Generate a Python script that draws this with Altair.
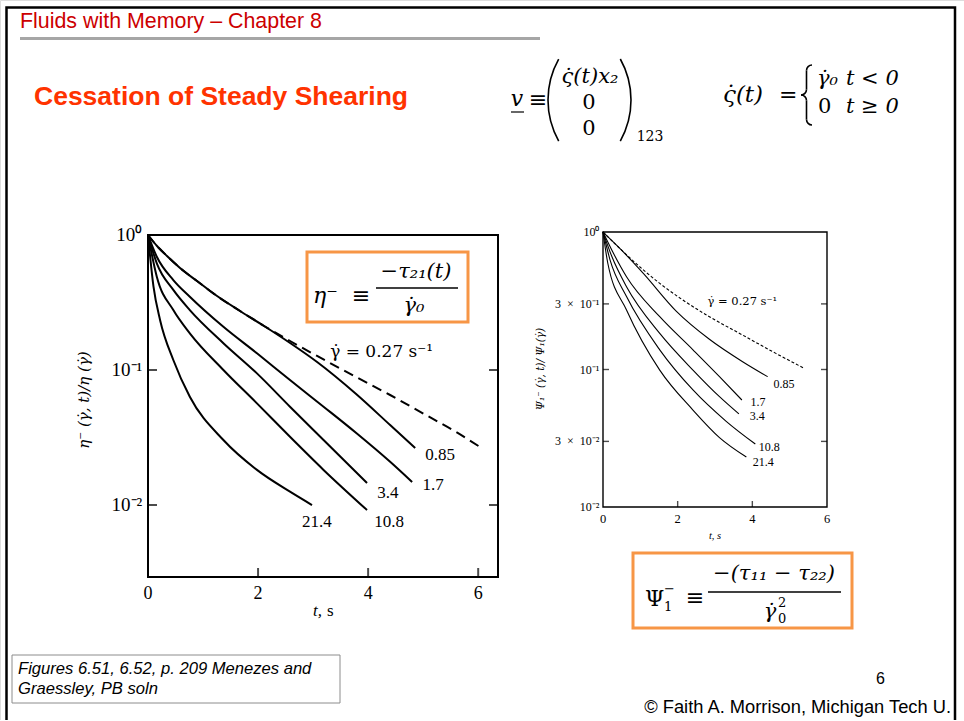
import altair as alt
import pandas as pd

W, H = 964, 720

# ---------------- shear stress after cessation: eta^-(t)/eta ----------------
rates = ["0.27", "0.85", "1.7", "3.4", "10.8", "21.4"]

eta_t_027 = [0, 0.164, 0.345, 0.582, 0.891, 1.255, 1.673, 2.109, 2.582, 3.073, 3.782, 4.40, 5.018, 5.60, 6.09]
eta_y_027 = [1.0, 0.829, 0.699, 0.570, 0.456, 0.353, 0.2735, 0.2118, 0.164, 0.127, 0.0887, 0.0653, 0.0472, 0.0347, 0.026]
eta_t_085 = [0, 0.164, 0.345, 0.582, 0.891, 1.255, 1.673, 2.109, 2.582, 3.073, 3.782, 4.40, 4.855]
eta_y_085 = [1.0, 0.829, 0.699, 0.570, 0.456, 0.353, 0.2735, 0.2118, 0.1585, 0.1146, 0.0664, 0.0391, 0.0264]
eta_t_17 = [0, 0.16, 0.46, 0.76, 1.37, 1.98, 2.58, 3.19, 3.79, 4.40, 4.80]
eta_y_17 = [1.0, 0.69, 0.464, 0.349, 0.209, 0.133, 0.0843, 0.0535, 0.034, 0.0209, 0.0148]
eta_t_34 = [0, 0.16, 0.46, 0.76, 1.37, 1.98, 2.58, 3.19, 3.98]
eta_y_34 = [1.0, 0.617, 0.392, 0.278, 0.158, 0.0944, 0.0535, 0.0303, 0.01455]
eta_t_108 = [0, 0.16, 0.46, 0.76, 1.37, 1.98, 2.58, 3.19, 3.98]
eta_y_108 = [1.0, 0.491, 0.278, 0.187, 0.1, 0.0566, 0.032, 0.0182, 0.00918]
eta_t_214 = [0, 0.10, 0.22, 0.46, 0.76, 1.37, 1.98, 2.58, 2.98]
eta_y_214 = [1.0, 0.414, 0.234, 0.1186, 0.0634, 0.0303, 0.0182, 0.01255, 0.01]

# label anchors for the left panel (t in s, ratio)
eta_lab_text = ["0.85", "1.7", "3.4", "10.8", "21.4"]
eta_lab_t = [5.31, 5.18, 4.36, 4.38, 3.07]
eta_lab_y = [0.0235, 0.01406, 0.01227, 0.00748, 0.00748]

# ---------------- first normal stress: Psi1^-(t)/Psi1 ----------------
psi_t_027 = [0, 0.45, 1.08, 1.52, 2.14, 2.85, 3.74, 4.63, 5.39]
psi_y_027 = [1.0, 0.76, 0.53, 0.423, 0.32, 0.242, 0.178, 0.131, 0.102]
psi_t_085 = [0, 0.45, 1.08, 1.96, 2.85, 3.74, 4.41]
psi_y_085 = [1.0, 0.76, 0.50, 0.266, 0.166, 0.114, 0.0887]
psi_t_17 = [0, 0.28, 0.63, 1.52, 2.41, 3.12, 3.72]
psi_y_17 = [1.0, 0.70, 0.473, 0.242, 0.139, 0.0887, 0.06]
psi_t_34 = [0, 0.24, 0.63, 1.52, 2.41, 3.12, 3.64]
psi_y_34 = [1.0, 0.66, 0.40, 0.183, 0.099, 0.0634, 0.0475]
psi_t_108 = [0, 0.19, 0.63, 1.52, 2.41, 3.30, 4.08]
psi_y_108 = [1.0, 0.625, 0.339, 0.139, 0.071, 0.042, 0.0287]
psi_t_214 = [0, 0.13, 0.63, 1.52, 2.41, 3.12, 3.84]
psi_y_214 = [1.0, 0.59, 0.271, 0.099, 0.0507, 0.032, 0.0231]

psi_lab_text = ["0.85", "1.7", "3.4", "10.8", "21.4"]
psi_lab_t = [4.85, 4.15, 4.13, 4.45, 4.29]
psi_lab_y = [0.0785, 0.0583, 0.0459, 0.0273, 0.0212]

# axis ticks
eta_xticks = [0, 2, 4, 6]
eta_yticks = [1, 0.1, 0.01]
eta_ylabels = ["10⁰", "10⁻¹", "10⁻²"]
psi_xticks = [0, 2, 4, 6]
psi_yticks = [1, 0.3, 0.1, 0.03, 0.01]
psi_ylabels = ["10⁰", "3\u2002×\u200210⁻¹", "10⁻¹", "3\u2002×\u200210⁻²", "10⁻²"]

ETA_TMAX, ETA_YMIN = 6.36, 0.00293
PSI_TMAX, PSI_YMIN = 6.0, 0.01


def long_table(ts, ys):
    rows = []
    for r, tt, yy in zip(rates, ts, ys):
        for a, b in zip(tt, yy):
            rows.append({"rate": r, "t": a, "y": b})
    return pd.DataFrame(rows)


eta_df = long_table([eta_t_027, eta_t_085, eta_t_17, eta_t_34, eta_t_108, eta_t_214],
                    [eta_y_027, eta_y_085, eta_y_17, eta_y_34, eta_y_108, eta_y_214])
psi_df = long_table([psi_t_027, psi_t_085, psi_t_17, psi_t_34, psi_t_108, psi_t_214],
                    [psi_y_027, psi_y_085, psi_y_17, psi_y_34, psi_y_108, psi_y_214])

one = pd.DataFrame({"k": [0]})
SERIF = "Liberation Serif"
MATH = "DejaVu Serif"
SANS = "Liberation Sans"


def label(s, x, y, size, font=SANS, color="black", weight="normal", style="normal",
          align="left", baseline="middle", angle=0):
    kw = dict(text=s, font=font, fontSize=size, color=color, fontWeight=weight,
              fontStyle=style, align=align, baseline=baseline)
    if angle:
        kw["angle"] = angle
    return alt.Chart(one).mark_text(**kw).encode(x=alt.value(x), y=alt.value(y))


def hline(x1, x2, y, color="black", width=1.0):
    return alt.Chart(one).mark_rule(color=color, strokeWidth=width).encode(
        x=alt.value(x1), x2=alt.value(x2), y=alt.value(y))


def vline(x, y1, y2, color="black", width=1.0):
    return alt.Chart(one).mark_rule(color=color, strokeWidth=width).encode(
        x=alt.value(x), y=alt.value(y1), y2=alt.value(y2))


def box(x1, x2, y1, y2, color, width, fill="white"):
    return alt.Chart(one).mark_rect(fill=fill, stroke=color, strokeWidth=width).encode(
        x=alt.value(x1), x2=alt.value(x2), y=alt.value(y1), y2=alt.value(y2))


def arc(cx, cy, r, a0, a1, width=1.6):
    return alt.Chart(one).mark_arc(radius=r + width / 2, radius2=r - width / 2, theta=a0,
                                   theta2=a1, color="black").encode(
        x=alt.value(cx), y=alt.value(cy))


def paren(edge_x, cy, r, left=True):
    # a thin circular arc standing in for a tall bracket
    th = 0.51
    mid = 4.712 if left else 1.571
    return arc(edge_x + r if left else edge_x - r, cy, r, mid - th, mid + th)


def brace(x0, top, bottom, w=11.0):
    # curly brace built from quarter arcs and two stems
    r = w / 2
    mid = (top + bottom) / 2
    stem = x0 + r
    q = 1.5708
    return [
        arc(x0 + w, top + r, r, 3 * q, 4 * q),
        vline(stem, top + r, mid - r, width=1.6),
        arc(x0, mid - r, r, q, 2 * q),
        arc(x0, mid + r, r, 0, q),
        vline(stem, mid + r, bottom - r, width=1.6),
        arc(x0 + w, bottom - r, r, 2 * q, 3 * q),
    ]


def panel(df, tmax, ymin, xrange, yrange, lab_text, lab_t, lab_y, xticks, yticks, ylabels,
          lw, frame_w, tick_len, lab_size, tick_size, ytick_size, rate_lab, rate_lab_pos,
          rate_size, dash):
    xs = alt.Scale(domain=[0, tmax], range=xrange, nice=False, zero=False)
    ys = alt.Scale(type="log", domain=[ymin, 1], range=yrange, nice=False)
    X = lambda f: alt.X(f, type="quantitative", scale=xs, axis=None)
    Y = lambda f: alt.Y(f, type="quantitative", scale=ys, axis=None)
    layers = []
    frame = pd.DataFrame({"t0": [0], "t1": [tmax], "y0": [ymin], "y1": [1]})
    layers.append(alt.Chart(frame).mark_rect(fillOpacity=0, stroke="black", strokeWidth=frame_w)
                  .encode(x=X("t0"), x2=alt.X2("t1"), y=Y("y0"), y2=alt.Y2("y1")))
    solid = alt.Chart(df).transform_filter("datum.rate != '0.27'").mark_line(
        color="black", strokeWidth=lw, interpolate="monotone").encode(
        x=X("t"), y=Y("y"), detail="rate:N")
    dashed = alt.Chart(df).transform_filter("datum.rate == '0.27'").mark_line(
        color="black", strokeWidth=lw, interpolate="monotone", strokeDash=dash).encode(
        x=X("t"), y=Y("y"))
    layers += [solid, dashed]
    # inward ticks on the bottom and both sides
    inner_x = [v for v in xticks if 0 < v < tmax]
    inner_y = [v for v in yticks if ymin < v < 1]
    bx = pd.DataFrame({"t": inner_x, "y": [ymin] * len(inner_x)})
    layers.append(alt.Chart(bx).mark_tick(orient="vertical", size=tick_len, thickness=frame_w,
                                          yOffset=-tick_len / 2, color="black")
                  .encode(x=X("t"), y=Y("y")))
    for side, off in ((0, tick_len / 2), (tmax, -tick_len / 2)):
        sy = pd.DataFrame({"t": [side] * len(inner_y), "y": inner_y})
        layers.append(alt.Chart(sy).mark_tick(orient="horizontal", size=tick_len,
                                              thickness=frame_w, xOffset=off, color="black")
                      .encode(x=X("t"), y=Y("y")))
    # tick labels
    xl = pd.DataFrame({"t": xticks, "s": [str(v) for v in xticks]})
    layers.append(alt.Chart(xl).mark_text(font=SERIF, fontSize=tick_size, baseline="top")
                  .encode(x=X("t"), y=alt.value(yrange[0] + tick_size * 0.45), text="s:N"))
    yl = pd.DataFrame({"y": yticks, "s": ylabels})
    layers.append(alt.Chart(yl).mark_text(font=SERIF, fontSize=ytick_size, align="right",
                                          baseline="middle")
                  .encode(x=alt.value(xrange[0] - ytick_size * 0.3), y=Y("y"), text="s:N"))
    # curve labels
    cl = pd.DataFrame({"t": lab_t, "y": lab_y, "s": lab_text})
    layers.append(alt.Chart(cl).mark_text(font=SERIF, fontSize=lab_size, baseline="middle")
                  .encode(x=X("t"), y=Y("y"), text="s:N"))
    rl = pd.DataFrame({"t": [rate_lab_pos[0]], "y": [rate_lab_pos[1]], "s": [rate_lab]})
    layers.append(alt.Chart(rl).mark_text(font=MATH, fontSize=rate_size, align="left",
                                          baseline="middle")
                  .encode(x=X("t"), y=Y("y"), text="s:N"))
    return layers


layers = []
# slide frame and header
layers.append(box(6.5, 955, 7.5, 760, "black", 2.5))
layers.append(label("Fluids with Memory – Chapter 8", 20, 22, 21.4, color="#CC0000"))
layers.append(hline(20, 540, 38.5, color="#A6A6A6", width=3))
layers.append(label("Cessation of Steady Shearing", 34, 97, 26.5, color="#FF3300", weight="bold"))

# velocity field
layers.append(label("v", 517, 99, 22, font=MATH, style="italic", align="center"))
layers.append(hline(511, 524, 112, width=1.2))
layers.append(label("≡", 538, 100, 22, font=MATH, align="center"))
layers.append(paren(548, 100, 84, left=True))
layers.append(label("ς̇(t)x₂", 590, 77, 21, font=MATH, style="italic", align="center"))
layers.append(label("0", 589, 103, 21, font=MATH, align="center"))
layers.append(label("0", 589, 129, 21, font=MATH, align="center"))
layers.append(paren(631, 100, 84, left=False))
layers.append(label("123", 650, 137, 14, font=MATH, align="center"))
# shear-rate history
layers.append(label("ς̇(t)", 723, 95, 23, font=MATH, style="italic"))
layers.append(label("=", 779, 95, 22, font=MATH))
layers += brace(801, 65, 125)
layers.append(label("γ̇₀", 817, 79, 21, font=MATH, style="italic"))
layers.append(label("t < 0", 846, 79, 21, font=MATH, style="italic"))
layers.append(label("0", 818, 107, 21, font=MATH))
layers.append(label("t ≥ 0", 846, 107, 21, font=MATH, style="italic"))

# left panel
layers += panel(eta_df, ETA_TMAX, ETA_YMIN, [148, 498], [577, 235],
                eta_lab_text, eta_lab_t, eta_lab_y, eta_xticks, eta_yticks, eta_ylabels,
                lw=2.0, frame_w=2.0, tick_len=9, lab_size=17, tick_size=18, ytick_size=19,
                rate_lab="γ̇ = 0.27 s⁻¹", rate_lab_pos=(3.31, 0.136), rate_size=17,
                dash=[10, 6])
layers.append(label("t,", 313, 611, 17, font=SERIF, style="italic"))
layers.append(label("s", 327, 611, 17, font=SERIF))
layers.append(label("η⁻ (γ̇, t)/η (γ̇)", 84, 400, 15, font=MATH, style="italic",
                    align="center", angle=270))

# right panel
layers += panel(psi_df, PSI_TMAX, PSI_YMIN, [603, 827], [507, 232],
                psi_lab_text, psi_lab_t, psi_lab_y, psi_xticks, psi_yticks, psi_ylabels,
                lw=1.1, frame_w=1.4, tick_len=6, lab_size=12, tick_size=12.5, ytick_size=12,
                rate_lab="γ̇ = 0.27 s⁻¹", rate_lab_pos=(2.8, 0.311), rate_size=11.5,
                dash=[3, 2])
layers.append(label("t, s", 715, 536, 10.5, font=SERIF, style="italic", align="center"))
layers.append(label("Ψ₁⁻ (γ̇, t)/ Ψ₁(γ̇)", 541, 369, 10.5, font=MATH, style="italic",
                    align="center", angle=270))

# definition boxes
ORANGE = "#F79646"
layers.append(box(307, 468, 252, 322, ORANGE, 3))
layers.append(label("η⁻", 313, 296, 22, font=MATH, style="italic"))
layers.append(label("≡", 361, 296, 22, font=MATH, align="center"))
layers.append(label("−τ₂₁(t)", 416, 272, 21, font=MATH, style="italic", align="center"))
layers.append(hline(376, 458, 288, width=1.3))
layers.append(label("γ̇₀", 414, 306, 21, font=MATH, style="italic", align="center"))

layers.append(box(633, 852, 553, 628, ORANGE, 3))
layers.append(label("Ψ", 645, 599, 22, font=MATH))
layers.append(label("−", 664, 589, 13, font=MATH))
layers.append(label("1", 664, 607, 13, font=MATH))
layers.append(label("≡", 695, 598, 22, font=MATH, align="center"))
layers.append(label("−(τ₁₁ − τ₂₂)", 774, 574, 21, font=MATH, style="italic", align="center"))
layers.append(hline(708, 841, 592, width=1.3))
layers.append(label("γ̇", 770, 612, 21, font=MATH, style="italic", align="center"))
layers.append(label("2", 778, 603, 13, font=MATH))
layers.append(label("0", 778, 619, 13, font=MATH))

# footer
layers.append(box(12, 340, 655, 703, "#8C8C8C", 1))
layers.append(label("Figures 6.51, 6.52, p. 209 Menezes and", 18, 669, 16.6, style="italic"))
layers.append(label("Graessley, PB soln", 18, 689, 16.6, style="italic"))
layers.append(label("6", 876, 679, 16))
layers.append(label("© Faith A. Morrison, Michigan Tech U.", 951, 708, 18.3, align="right"))

chart = alt.layer(*layers).properties(
    width=W, height=H, padding=0, autosize=alt.AutoSizeParams(type="none")
).resolve_scale(x="independent", y="independent").configure_view(strokeWidth=0).configure(
    background="white")

chart.save("out.html", embed_options={"renderer": "svg", "actions": False})
